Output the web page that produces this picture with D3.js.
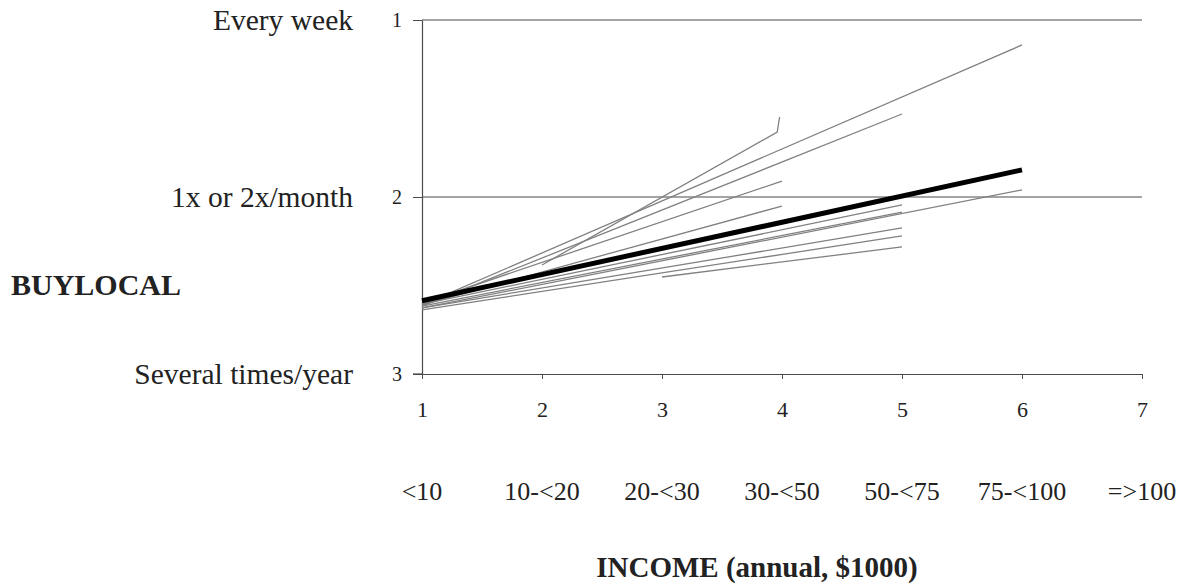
<!DOCTYPE html>
<html>
<head>
<meta charset="utf-8">
<script src="https://cdn.jsdelivr.net/npm/d3@7"></script>
<style>
  html, body { margin: 0; padding: 0; background: #fff; }
  svg { display: block; font-family: "Liberation Serif", "Times New Roman", serif; }
</style>
</head>
<body>
<svg id="chart" width="1192" height="585"></svg>
<script>
// Income categories (x = 1..7) and the frequency scale (y = 1..3)
const incomeTicks = [1, 2, 3, 4, 5, 6, 7];
const incomeLabels = ["<10", "10-<20", "20-<30", "30-<50", "50-<75", "75-<100", "=>100"];
const freqTicks = [1, 2, 3];
const freqLabels = ["Every week", "1x or 2x/month", "Several times/year"];

// Overall (fixed-effect) prediction
const overallLine = [[1, 2.586], [6, 1.847]];

// Group-level predictions, each over the income range observed in the group
const groupLines = [
  [[1, 2.610], [6, 1.141]],
  [[1, 2.616], [5, 1.531]],
  [[2, 2.384], [3.96, 1.633], [3.98, 1.548]],
  [[1, 2.599], [4, 1.910]],
  [[1, 2.610], [4, 2.051]],
  [[1, 2.627], [6, 1.960]],
  [[1, 2.605], [5, 2.045]],
  [[1, 2.616], [5, 2.085]],
  [[1, 2.627], [5, 2.175]],
  [[1, 2.638], [5, 2.220]],
  [[3, 2.452], [5, 2.282]]
];

const svg = d3.select("#chart");
const plotLeft = 422, plotRight = 1142, plotTop = 20, plotBottom = 374;

const x = d3.scaleLinear().domain([1, 7]).range([plotLeft, plotRight]);
const y = d3.scaleLinear().domain([1, 3]).range([plotTop, plotBottom]);

// Horizontal reference lines at 1 and 2
svg.append("g")
  .selectAll("line")
  .data([1, 2])
  .join("line")
  .attr("x1", plotLeft).attr("x2", plotRight)
  .attr("y1", d => y(d)).attr("y2", d => y(d))
  .attr("stroke", "#4a4a4a").attr("stroke-width", 1.2);

// Left axis
const yAxis = svg.append("g")
  .attr("transform", `translate(${plotLeft},0)`)
  .call(d3.axisLeft(y).tickValues(freqTicks).tickSize(9).tickPadding(11)
    .tickFormat(d3.format("d")).tickSizeOuter(0));
yAxis.select(".domain").attr("stroke", "#4a4a4a").attr("stroke-width", 1.2);
yAxis.selectAll(".tick line").attr("stroke", "#4a4a4a");
yAxis.selectAll(".tick text")
  .attr("font-size", 20).attr("fill", "#222")
  .attr("font-family", "Liberation Serif").attr("dy", "0.32em");

// Bottom axis
const xAxis = svg.append("g")
  .attr("transform", `translate(0,${plotBottom})`)
  .call(d3.axisBottom(x).tickValues(incomeTicks).tickSize(5).tickPadding(38)
    .tickFormat(d3.format("d")).tickSizeOuter(0));
xAxis.select(".domain").attr("stroke", "#4a4a4a").attr("stroke-width", 1.2);
xAxis.selectAll(".tick line").attr("stroke", "#4a4a4a");
xAxis.selectAll(".tick text")
  .attr("font-size", 22).attr("fill", "#222")
  .attr("font-family", "Liberation Serif").attr("dy", "0");

// extend the bottom line to the left like the other ticks
svg.append("line")
  .attr("x1", plotLeft - 9).attr("x2", plotLeft)
  .attr("y1", plotBottom).attr("y2", plotBottom)
  .attr("stroke", "#4a4a4a").attr("stroke-width", 1.2);

// Income category names under the numeric ticks
svg.append("g")
  .selectAll("text")
  .data(incomeLabels)
  .join("text")
  .attr("x", (d, i) => x(incomeTicks[i]))
  .attr("y", 500)
  .attr("text-anchor", "middle")
  .attr("font-size", 26)
  .attr("fill", "#222")
  .text(d => d);

// Frequency names beside the left axis
svg.append("g")
  .selectAll("text")
  .data(freqLabels)
  .join("text")
  .attr("x", 353)
  .attr("y", (d, i) => y(freqTicks[i]) + 9.5)
  .attr("text-anchor", "end")
  .attr("font-size", 29.5)
  .attr("fill", "#222")
  .text(d => d);

// Axis titles
svg.append("text")
  .attr("x", 11).attr("y", 295)
  .attr("font-size", 30).attr("font-weight", "bold").attr("fill", "#222")
  .text("BUYLOCAL");

svg.append("text")
  .attr("x", 757).attr("y", 577)
  .attr("text-anchor", "middle")
  .attr("font-size", 29).attr("font-weight", "bold").attr("fill", "#222")
  .text("INCOME (annual, $1000)");

// Lines
const line = d3.line().x(d => x(d[0])).y(d => y(d[1]));

svg.append("g")
  .selectAll("path")
  .data(groupLines)
  .join("path")
  .attr("d", line)
  .attr("fill", "none")
  .attr("stroke", "#808080")
  .attr("stroke-width", 1.3);

svg.append("path")
  .datum(overallLine)
  .attr("d", line)
  .attr("fill", "none")
  .attr("stroke", "#000")
  .attr("stroke-width", 5);
</script>
</body>
</html>
